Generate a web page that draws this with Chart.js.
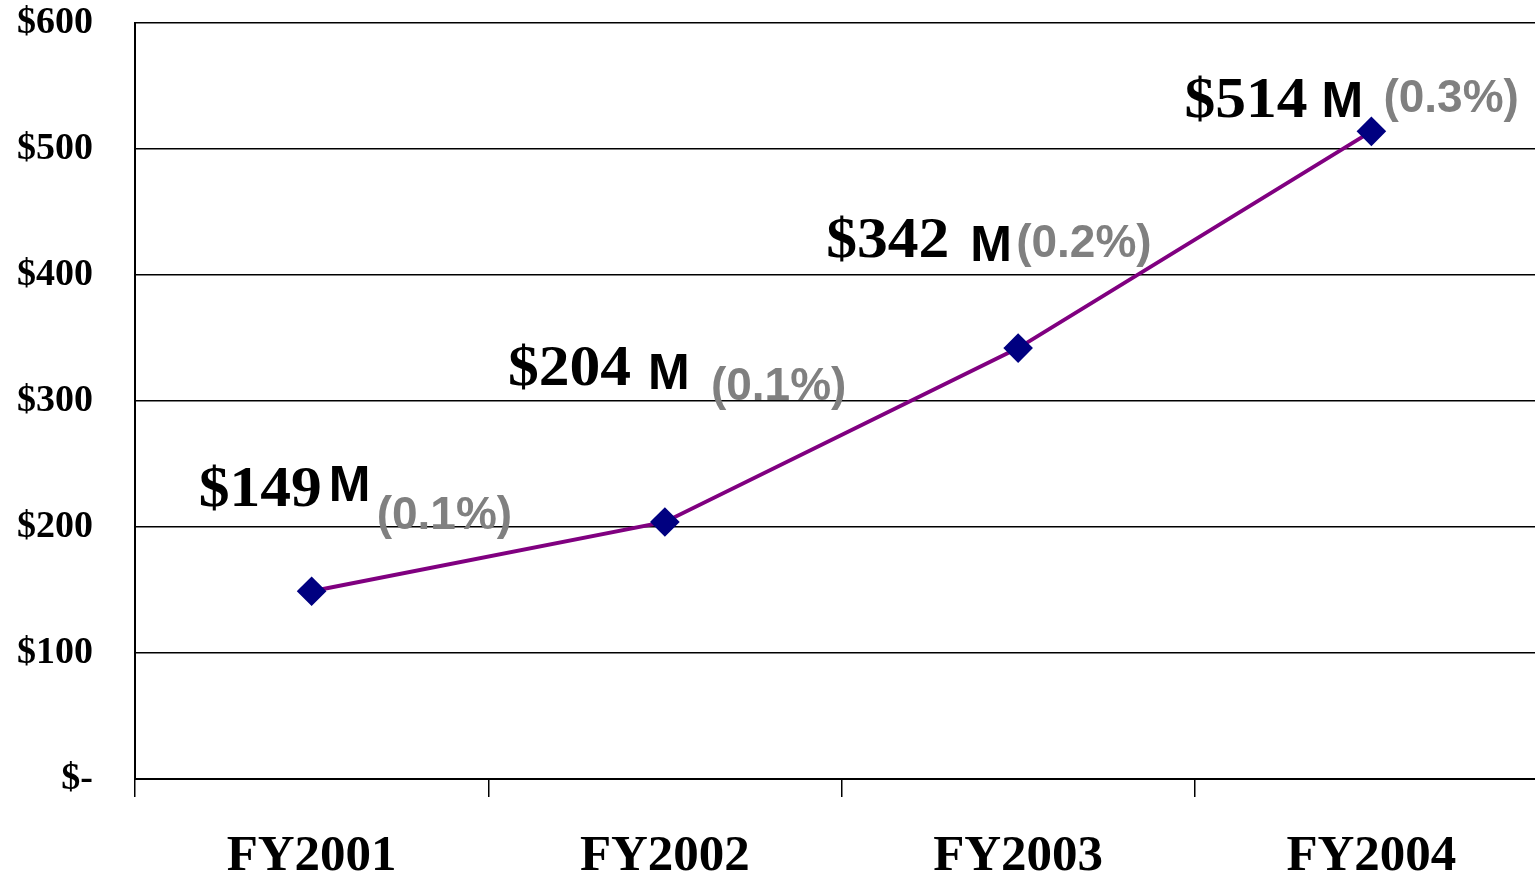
<!DOCTYPE html>
<html>
<head>
<meta charset="utf-8">
<script src="https://cdn.jsdelivr.net/npm/chart.js@4/dist/chart.umd.min.js"></script>
<style>
  html, body { margin: 0; padding: 0; background: #fff; overflow: hidden; }
  /* the plot runs a little past the right edge of the window, as in the original */
  #wrap { width: 1548px; height: 878px; }
  canvas { display: block; }
</style>
</head>
<body>
<div id="wrap"><canvas id="spend-chart"></canvas></div>
<script>
const years = ["FY2001", "FY2002", "FY2003", "FY2004"];
const spending = [149, 204, 342, 514];
const amountLabels = ["$149", "$204", "$342", "$514"];
const shareLabels = ["(0.1%)", "(0.1%)", "(0.2%)", "(0.3%)"];

// label offsets from each point: [dollar, M, percent] as [dx, dy]
const labelOffsets = [
  [[-113, -85], [17, -90], [65, -62]],
  [[-157, -137], [-17, -133], [46, -122]],
  [[-192, -91], [-48, -87], [-2, -91]],
  [[-187, -14], [-50, -14], [12, -19]]
];

const serif = "'Liberation Serif', 'Times New Roman', serif";
const sans = "'Liberation Sans', Arial, sans-serif";

const pointLabels = {
  id: "pointLabels",
  afterDatasetsDraw(chart) {
    const ctx = chart.ctx;
    const pts = chart.getDatasetMeta(0).data;
    ctx.save();
    ctx.textAlign = "left";
    ctx.textBaseline = "alphabetic";
    pts.forEach((p, i) => {
      const o = labelOffsets[i];
      ctx.fillStyle = "#000";
      ctx.font = "bold 56px " + serif;
      // the serif amounts are a bit wider in the original
      ctx.save();
      ctx.translate(p.x + o[0][0], p.y + o[0][1]);
      ctx.scale(1.1, 1);
      ctx.fillText(amountLabels[i], 0, 0);
      ctx.restore();
      ctx.font = "bold 50px " + sans;
      ctx.fillText("M", p.x + o[1][0], p.y + o[1][1]);
      ctx.fillStyle = "#808080";
      ctx.font = "bold 46px " + sans;
      ctx.fillText(shareLabels[i], p.x + o[2][0], p.y + o[2][1]);
    });
    ctx.restore();
  }
};

new Chart(document.getElementById("spend-chart"), {
  type: "line",
  data: {
    labels: years,
    datasets: [{
      data: spending,
      borderColor: "#800080",
      borderWidth: 4,
      pointStyle: "rectRot",
      pointRadius: 12,
      pointHoverRadius: 12,
      pointBackgroundColor: "#000080",
      pointBorderColor: "#000080",
      tension: 0
    }]
  },
  options: {
    responsive: true,
    maintainAspectRatio: false,
    animation: false,
    layout: { autoPadding: false, padding: { top: 23, right: 0, left: 0, bottom: 0 } },
    plugins: { legend: { display: false }, tooltip: { enabled: false } },
    scales: {
      x: {
        offset: true,
        grid: { offset: true, drawOnChartArea: false, color: "#000", lineWidth: 1.5, tickLength: 18 },
        border: { display: true, color: "#000", width: 2 },
        ticks: { color: "#000", padding: 29, font: { family: serif, weight: "bold", size: 51 } },
        afterFit: s => { s.height = 99; s.paddingLeft = 0; s.paddingRight = 0; }
      },
      y: {
        min: 0,
        max: 600,
        grid: { color: "#000", lineWidth: 1.5, drawTicks: false },
        border: { display: true, color: "#000", width: 2 },
        ticks: {
          stepSize: 100,
          color: "#000",
          padding: 42,
          font: { family: serif, weight: "bold", size: 38 },
          callback: v => (v === 0 ? "$-" : "$" + v)
        },
        afterFit: s => { s.width = 135; s.paddingTop = 0; s.paddingBottom = 0; }
      }
    }
  },
  plugins: [pointLabels]
});
</script>
</body>
</html>
